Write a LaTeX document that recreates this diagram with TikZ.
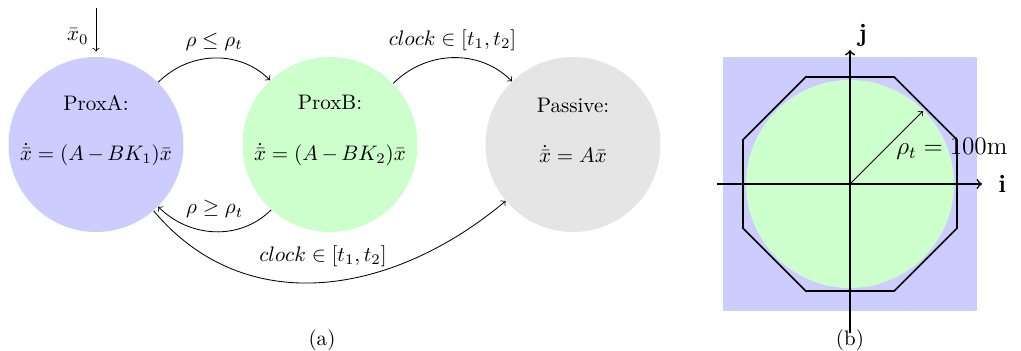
\documentclass[tikz,border=0pt]{standalone}
\usetikzlibrary{positioning,calc}
\definecolor{sProxA}{RGB}{204,204,255}
\definecolor{sProxB}{RGB}{204,255,204}
\definecolor{sPass} {RGB}{229,229,229}

\begin{document}
\begin{tikzpicture}[x=0.476pt,y=0.476pt]

% ---------------------------------------------------------------- styles
\tikzset{
  state/.style  = {circle, minimum size=83.3pt, inner sep=0pt, draw=none},
  stxt/.style   = {align=center, inner sep=0pt},
  arr/.style    = {->},
  axis/.style   = {thick, ->},
  subcap/.style = {inner sep=0pt},
}

\useasboundingbox (0,0) rectangle (1021,351);

% ============================================================ (a) states
\node[state, fill=sProxA] (proxA) at (96,206.5)  {};
\node[state, fill=sProxB] (proxB) at (330,206.5) {};
\node[state, fill=sPass]  (pass)  at (573,206.5) {};

\node[stxt] (tA) at ($(proxA)+(0,14)$) {ProxA:\\[12pt] $\dot{\bar{x}} = (A\,{-}\,BK_1)\bar{x}$};
\node[stxt] (tB) at ($(proxB)+(0,14)$) {ProxB:\\[12pt] $\dot{\bar{x}} = (A\,{-}\,BK_2)\bar{x}$};
\node[stxt] (tP) at ($(pass)+(0,14)$)  {Passive:\\[12pt] $\dot{\bar{x}} = A\bar{x}$};

% ------------------------------------------------------- transitions
\coordinate (x0) at (96,343);
\draw[arr, shorten >=2.4pt] (x0) -- (proxA.north)
  node[midway, left, yshift=-2pt] {$\bar{x}_0$};

\draw[arr] (proxA.45) to[out=45, in=135]
  node[above] {$\rho \leq \rho_t$} (proxB.133);
\draw[arr] (proxB.-132) to[out=-135, in=-45]
  node[above, yshift=3pt] {$\rho \geq \rho_t$} (proxA.-45);
\draw[arr] (proxB.44) to[out=45, in=135]
  node[above] {$clock \in [t_1, t_2]$} (pass.134);
\draw[arr] (proxA.-49) to[out=-50, in=-140, looseness=1.05]
  node[above, yshift=4pt] {$clock \in [t_1, t_2]$} (pass.-140);

\node[subcap] (capA) at (322,11) {(a)};

% ============================================================ (b) region
\begin{scope}[shift={(850,167)}]
  \fill[sProxA] (-127,-127) rectangle (127,127);
  \fill[sProxB] (0,0) circle[radius=104];
  \draw[thick] (22.5:115.8)
    \foreach \a in {67.5,112.5,...,337.5} { -- (\a:115.8) } -- cycle;
  \draw[axis] (-133,0) -- (132,0) node[right, xshift=4pt] (ii) {\large\textbf{i}};
  \draw[axis] (0,-149) -- (0,134) node[above, xshift=6pt, yshift=-2pt] (jj) {\large\textbf{j}};
  \draw[arr] (0,0) -- (45:103);
\end{scope}

\node[anchor=base west, inner sep=0pt] (rho) at (896,196) {\large$\rho_t = 100\mathrm{m}$};
\node[subcap] (capB) at (850,11) {(b)};

\end{tikzpicture}
\end{document}
